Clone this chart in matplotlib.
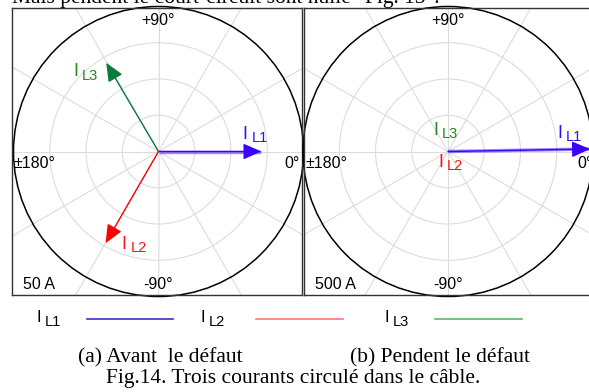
import matplotlib
matplotlib.use("Agg")
import matplotlib.pyplot as plt
import numpy as np
from matplotlib.lines import Line2D
from matplotlib.patches import Circle

plt.rcParams["font.family"] = ["Liberation Sans", "DejaVu Sans"]

# phasor data (magnitude in A, angle in degrees)
phases = ["L1", "L2", "L3"]
before_mag = [35.5, 36.5, 35.5]
before_ang = [0, -120, 120.5]
during_mag = [490, 0, 0]
during_ang = [1, 0, 0]
scale_before = 50
scale_during = 500

arrow_colors = ["#3a00ff", "#ff0000", "#0b7a3e"]
label_colors = ["#2a10ff", "#ff1010", "#1a8c1a"]
legend_colors = ["#3333cc", "#ff7777", "#66b366"]

W, H = 589, 392
fig = plt.figure(figsize=(W / 100, H / 100), dpi=100)


def rect(x0, y0, x1, y1):
    return [x0 / W, 1 - y1 / H, (x1 - x0) / W, (y1 - y0) / H]


def sub_text(ax, xy, dx, dy, name, color):
    # "I" followed by a smaller, lowered phase name
    ax.annotate("I", xy=xy, xytext=(dx, dy), textcoords="offset pixels",
                ha="left", va="center", fontsize=13, color=color)
    ax.annotate(name, xy=xy, xytext=(dx + 9, dy - 4), textcoords="offset pixels",
                ha="left", va="center", fontsize=10.5, color=color)


def panel(box, center, R, rmax, mags, angs, label_offsets, scale_text,
          zero_dx):
    x0, y0, x1, y1 = box
    cx, cy = center
    ax = fig.add_axes(rect(*box))
    ax.set_xlim((x0 - cx) / R * rmax, (x1 - cx) / R * rmax)
    ax.set_ylim(-(y1 - cy) / R * rmax, (cy - y0) / R * rmax)
    ax.set_xticks([])
    ax.set_yticks([])
    for s in ax.spines.values():
        s.set_linewidth(1.0)
        s.set_color("#333333")

    # grid
    for a in np.deg2rad(np.arange(0, 180, 30)):
        ax.plot([-2 * rmax * np.cos(a), 2 * rmax * np.cos(a)],
                [-2 * rmax * np.sin(a), 2 * rmax * np.sin(a)],
                color="#dcdcdc", lw=0.8, zorder=1)
    for f in [0.25, 0.5, 0.75]:
        ax.add_patch(Circle((0, 0), f * rmax, fill=False, ec="#dcdcdc",
                            lw=0.8, zorder=1))
    ax.add_patch(Circle((0, 0), rmax, fill=False, ec="black", lw=1.1,
                        zorder=2, clip_on=False))

    # angle labels
    opts = dict(xy=(0, 0), textcoords="offset pixels", fontsize=11.5)
    ax.annotate("+90°", xytext=(0, 131), ha="center", va="center", **opts)
    ax.annotate("-90°", xytext=(0, -133), ha="center", va="center", **opts)
    ax.annotate("±180°", xytext=(x0 - cx + 1, -12), ha="left", va="center", **opts)
    ax.annotate("0°", xytext=(zero_dx, -12), ha="right", va="center", **opts)
    ax.annotate(scale_text, xytext=(x0 - cx + 11, -133),
                ha="left", va="center", **opts)

    # phasors
    for i, (m, a) in enumerate(zip(mags, angs)):
        tip = (m * np.cos(np.deg2rad(a)), m * np.sin(np.deg2rad(a)))
        if m > 0.02 * rmax:
            if i == 0:
                ax.plot([0, tip[0]], [0, tip[1]], color=arrow_colors[i],
                        lw=2.5, alpha=0.45, zorder=3, solid_capstyle="butt")
            ax.annotate("", xy=tip, xytext=(0, 0),
                        arrowprops=dict(arrowstyle="-|>,head_length=0.8,head_width=0.35",
                                        mutation_scale=14, color=arrow_colors[i],
                                        lw=1, shrinkA=0, shrinkB=0),
                        zorder=4, annotation_clip=False)
        dx, dy = label_offsets[i]
        sub_text(ax, tip, dx, dy, phases[i], label_colors[i])
    return ax


panel((12, 8, 302, 295), (158.5, 151.5), 145, scale_before,
      before_mag, before_ang,
      [(-19, 17), (16, -1), (-33, -9)], "50 A", 141.5)
panel((304, 8, 640, 295), (448, 151.5), 145, scale_during,
      during_mag, during_ang,
      [(-33, 16), (-10, -11), (-15, 21)], "500 A", 145)

# legend row
leg_text_x = [37, 201, 385]
leg_line_x = [(87, 173), (256, 343), (435, 522)]
for i in range(3):
    fig.text(leg_text_x[i] / W, 1 - 318 / H, "I", fontsize=12,
             ha="left", va="center")
    fig.text((leg_text_x[i] + 8) / W, 1 - 322 / H, phases[i], fontsize=10.5,
             ha="left", va="center")
    xa, xb = leg_line_x[i]
    fig.add_artist(Line2D([xa / W, xb / W], [1 - 319 / H, 1 - 319 / H],
                          color=legend_colors[i], lw=1.2))

serif = ["Liberation Serif", "DejaVu Serif"]
fig.text(78 / W, 1 - 358 / H, "(a) Avant  le défaut", family=serif,
         fontsize=15.5, ha="left", va="center")
fig.text(350 / W, 1 - 358 / H, "(b) Pendent le défaut", family=serif,
         fontsize=15.5, ha="left", va="center")
fig.text(293 / W, 1 - 379 / H, "Fig.14. Trois courants circulé dans le câble.",
         family=serif, fontsize=15.5, ha="center", va="center")
fig.text(12 / W, 1 - 3.5 / H, 'Mais pendent le court-circuit sont nulle "Fig. 13".',
         family=serif, fontsize=15.5, ha="left", va="baseline")

fig.savefig("out.png", dpi=100)
